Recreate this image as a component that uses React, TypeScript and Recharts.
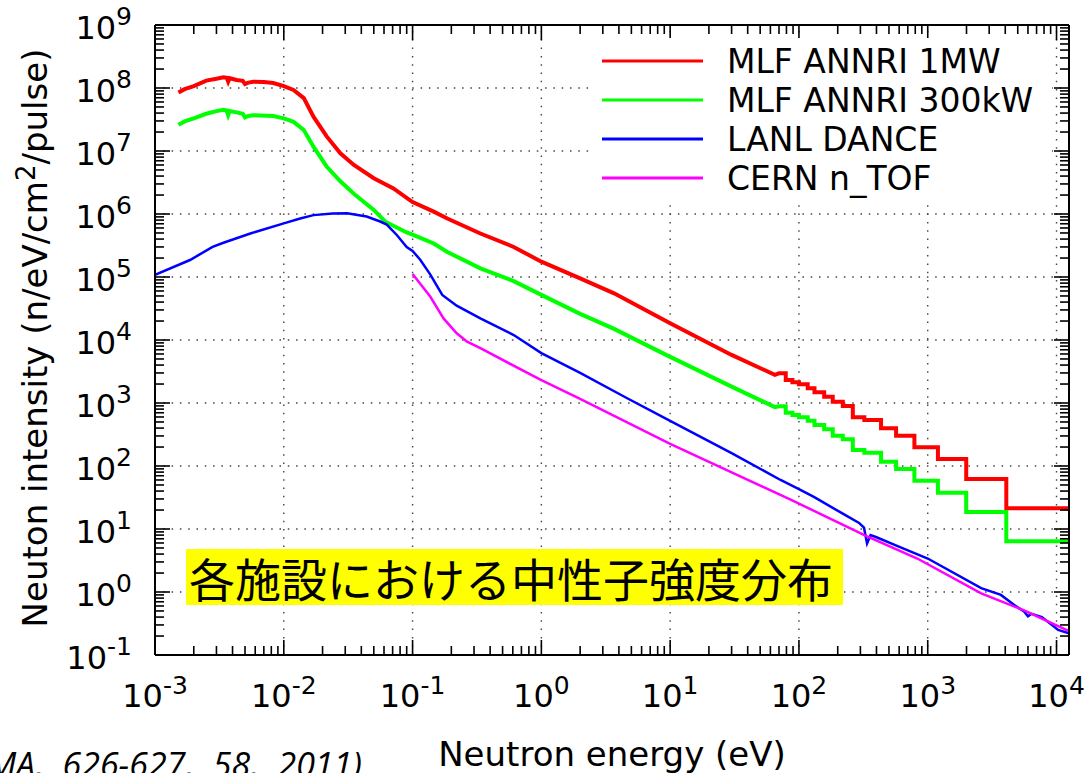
import React from "react";
import { LineChart, Line, XAxis, YAxis, ReferenceLine, Legend } from "recharts";

// ── Layout / fonts ─────────────────────────────────────────────────────────────
const W = 1092;
const H = 773;
const FONT = "'DejaVu Sans', sans-serif";
const TICK_MAJOR = 15;
const TICK_MINOR = 9;

// ── Axes ───────────────────────────────────────────────────────────────────────
const X_DOMAIN: [number, number] = [1e-3, 1.25e4];
const Y_DOMAIN: [number, number] = [1e-1, 1e9];
const X_MAJOR = [1e-3, 1e-2, 1e-1, 1, 10, 100, 1e3, 1e4];
const Y_MAJOR = [1e-1, 1, 10, 100, 1e3, 1e4, 1e5, 1e6, 1e7, 1e8, 1e9];
const MINOR = [2, 3, 4, 5, 6, 7, 8, 9];

// ── MLF ANNRI 1MW (eV, n/eV/cm2/pulse) ─────────────────────────────────────────
const redE = [1.52e-3, 1.7e-3, 2.0e-3, 2.5e-3, 3.0e-3, 3.4e-3, 3.6e-3, 3.7e-3, 3.8e-3, 4.3e-3, 4.8e-3, 5.0e-3, 5.3e-3, 5.8e-3, 7.0e-3, 8.3e-3, 1.0e-2, 1.19e-2, 1.43e-2, 1.7e-2, 2.16e-2, 2.75e-2, 3.5e-2, 5.0e-2, 7.1e-2, 0.1, 0.146, 0.186, 0.336, 0.61, 1.0, 2.0, 3.67, 10, 30, 65];
const redI = [8.5e7, 9.6e7, 1.07e8, 1.31e8, 1.4e8, 1.48e8, 1.45e8, 1.26e8, 1.43e8, 1.34e8, 1.3e8, 1.16e8, 1.22e8, 1.26e8, 1.24e8, 1.2e8, 1.07e8, 9.3e7, 6.9e7, 3.5e7, 1.69e7, 9.2e6, 6.0e6, 3.7e6, 2.55e6, 1.55e6, 1.09e6, 8.5e5, 4.9e5, 3.0e5, 1.75e5, 9.5e4, 5.5e4, 1.84e4, 5.8e3, 2.8e3];
// histogram bins at high energy
const binEdges = [70, 79, 89, 100, 117, 132, 157, 183, 219, 262, 322, 434, 568, 788, 1200, 1990, 4075, 12500];
const redBins = [2960, 2320, 2130, 1980, 1710, 1480, 1260, 1050, 895, 592, 537, 396, 303, 198, 129, 62, 21.3];

// ── MLF ANNRI 300kW ────────────────────────────────────────────────────────────
const greenE = [1.52e-3, 1.7e-3, 2.0e-3, 2.5e-3, 3.0e-3, 3.4e-3, 3.6e-3, 3.7e-3, 3.8e-3, 4.3e-3, 4.8e-3, 5.0e-3, 5.3e-3, 5.8e-3, 8.3e-3, 1.0e-2, 1.19e-2, 1.43e-2, 1.7e-2, 2.16e-2, 2.75e-2, 3.5e-2, 5.0e-2, 6.14e-2, 9.0e-2, 0.1, 0.146, 0.186, 0.336, 0.61, 1.0, 2.0, 3.67, 10, 30, 65];
const greenI = [2.6e7, 2.95e7, 3.3e7, 3.9e7, 4.3e7, 4.5e7, 4.4e7, 3.7e7, 4.3e7, 4.1e7, 3.9e7, 3.4e7, 3.6e7, 3.7e7, 3.6e7, 3.3e7, 2.9e7, 2.15e7, 1.17e7, 5.6e6, 3.3e6, 2.1e6, 1.16e6, 7.55e5, 5.1e5, 4.7e5, 3.4e5, 2.5e5, 1.37e5, 8.6e4, 5.2e4, 2.6e4, 1.5e4, 5.4e3, 1.82e3, 860];
const greenBins = [890, 700, 645, 592, 524, 448, 382, 303, 266, 180, 163, 117, 90, 58.5, 37.7, 18.6, 6.4];

// ── LANL DANCE ─────────────────────────────────────────────────────────────────
const blueE = [1e-3, 1.87e-3, 2.8e-3, 3.4e-3, 5.5e-3, 1e-2, 1.34e-2, 1.7e-2, 2.4e-2, 3.1e-2, 4.4e-2, 5.6e-2, 6.3e-2, 7.57e-2, 9e-2, 0.1, 0.115, 0.137, 0.17, 0.22, 0.336, 0.61, 1, 2, 4.6, 10, 30, 72, 100, 131.6, 219, 293, 320, 338, 360, 400, 590, 1000, 2600, 3700, 4700, 5600, 6000, 6400, 7700, 10300, 12500];
const blueI = [1.08e5, 1.86e5, 3.0e5, 3.5e5, 4.9e5, 7.1e5, 8.5e5, 9.6e5, 1.02e6, 1.03e6, 9.1e5, 7.6e5, 6.8e5, 4.6e5, 3.0e5, 2.6e5, 1.86e5, 1.1e5, 5.2e4, 3.5e4, 2.2e4, 1.2e4, 6.2e3, 3.0e3, 1.2e3, 520, 160, 60, 43, 32, 17.5, 12.5, 10.5, 5.9, 8.0, 7.4, 5.3, 3.4, 1.15, 0.9, 0.62, 0.49, 0.41, 0.45, 0.40, 0.25, 0.22];

// ── CERN n_TOF ─────────────────────────────────────────────────────────────────
const magE = [0.1, 0.137, 0.174, 0.22, 0.265, 0.336, 1.0, 2.0, 10, 87, 322, 830, 2600, 5600, 12500];
const magI = [1.12e5, 4.9e4, 2.2e4, 1.28e4, 9.4e3, 7.4e3, 2.3e3, 1.16e3, 224, 29, 8, 3.4, 0.95, 0.51, 0.24];

// ── Helpers ────────────────────────────────────────────────────────────────────
type Pt = { e: number; v: number };
const toPoints = (es: number[], vs: number[]): Pt[] => es.map((e, i) => ({ e, v: vs[i] }));
const toSteps = (edges: number[], vals: number[]): Pt[] =>
  vals.flatMap((v, i) => [{ e: edges[i], v }, { e: edges[i + 1], v }]);

const SERIES = [
  { name: "MLF ANNRI 1MW", color: "#ff0000", width: 4, data: [...toPoints(redE, redI), ...toSteps(binEdges, redBins)] },
  { name: "MLF ANNRI 300kW", color: "#00ff00", width: 4, data: [...toPoints(greenE, greenI), ...toSteps(binEdges, greenBins)] },
  { name: "LANL DANCE", color: "#0000ff", width: 2.5, data: toPoints(blueE, blueI) },
  { name: "CERN n_TOF", color: "#ff00ff", width: 2.5, data: toPoints(magE, magI) },
];

const expOf = (v: number) => Math.round(Math.log10(v));
const isMajor = (v: number) => Math.abs(Math.log10(v) - expOf(v)) < 1e-6;

const withMinor = (majors: number[], [lo, hi]: [number, number]) =>
  majors
    .flatMap((m) => [m, ...MINOR.map((k) => m * k)])
    .filter((v) => v >= lo * 0.999 && v <= hi * 1.001)
    .sort((a, b) => a - b);

const X_TICKS = withMinor(X_MAJOR, X_DOMAIN);
const Y_TICKS = withMinor(Y_MAJOR, Y_DOMAIN);

// ── Ticks (gnuplot style: inward, mirrored) ────────────────────────────────────
function makeTick(side: "bottom" | "top" | "left" | "right") {
  return function Tick(props: any) {
    const { x, y, payload } = props;
    const v = payload.value as number;
    const major = isMajor(v);
    const len = major ? TICK_MAJOR : TICK_MINOR;
    let x2 = x;
    let y2 = y;
    if (side === "bottom") y2 = y - len;
    if (side === "top") y2 = y + len;
    if (side === "left") x2 = x + len;
    if (side === "right") x2 = x - len;
    return (
      <g>
        <line x1={x} y1={y} x2={x2} y2={y2} stroke="#000" strokeWidth={1.6} />
        {major && side === "bottom" && (
          <text x={x} y={y + 52} textAnchor="middle" fontFamily={FONT} fontSize={32} fill="#000">
            10<tspan dy={-13} fontSize={25}>{expOf(v)}</tspan>
          </text>
        )}
        {major && side === "left" && (
          <text x={x - 23} y={y + 14} textAnchor="end" fontFamily={FONT} fontSize={32} fill="#000">
            10<tspan dy={-14} fontSize={25}>{expOf(v)}</tspan>
          </text>
        )}
      </g>
    );
  };
}

// ── Legend (opaque key box) ────────────────────────────────────────────────────
function KeyBox() {
  return (
    <svg width={460} height={162} style={{ display: "block" }}>
      {SERIES.map((s, i) => (
        <g key={s.name}>
          <line x1={10} x2={111} y1={23 + 39 * i} y2={23 + 39 * i} stroke={s.color} strokeWidth={3} />
          <text x={135} y={35 + 39 * i} fontFamily={FONT} fontSize={33} fill="#000">{s.name}</text>
        </g>
      ))}
    </svg>
  );
}

const frame = { stroke: "#000", strokeWidth: 2 };
const gridStyle = { stroke: "#444", strokeWidth: 1.4, strokeDasharray: "1.5 6.8" };

export default function App() {
  return (
    <div style={{ position: "absolute", left: 0, top: 0, width: W, height: H, overflow: "hidden", background: "#fff" }}>
      <LineChart width={W} height={H} margin={{ top: 20, right: 18, bottom: 58, left: 75 }}>
        <XAxis xAxisId="b" dataKey="e" type="number" scale="log" domain={X_DOMAIN} allowDataOverflow
          ticks={X_TICKS} interval={0} tick={makeTick("bottom")} tickLine={false} tickSize={0} tickMargin={0}
          axisLine={frame} height={60} orientation="bottom" />
        <XAxis xAxisId="t" dataKey="e" type="number" scale="log" domain={X_DOMAIN} allowDataOverflow
          ticks={X_TICKS} interval={0} tick={makeTick("top")} tickLine={false} tickSize={0} tickMargin={0}
          axisLine={frame} height={5} orientation="top" />
        <YAxis yAxisId="l" type="number" scale="log" domain={Y_DOMAIN} allowDataOverflow
          ticks={Y_TICKS} interval={0} tick={makeTick("left")} tickLine={false} tickSize={0} tickMargin={0}
          axisLine={frame} width={80} orientation="left" />
        <YAxis yAxisId="r" type="number" scale="log" domain={Y_DOMAIN} allowDataOverflow
          ticks={Y_TICKS} interval={0} tick={makeTick("right")} tickLine={false} tickSize={0} tickMargin={0}
          axisLine={frame} width={5} orientation="right" />

        {X_MAJOR.map((v) => (
          <ReferenceLine key={"gx" + v} x={v} xAxisId="b" yAxisId="l" {...gridStyle} />
        ))}
        {Y_MAJOR.map((v) => (
          <ReferenceLine key={"gy" + v} y={v} xAxisId="b" yAxisId="l" {...gridStyle} />
        ))}

        {SERIES.map((s) => (
          <Line key={s.name} xAxisId="b" yAxisId="l" data={s.data} dataKey="v" name={s.name}
            type="linear" stroke={s.color} strokeWidth={s.width} dot={false} activeDot={false}
            isAnimationActive={false} />
        ))}

        <Legend layout="vertical" align="center" verticalAlign="middle"
          wrapperStyle={{ left: 592, top: 38, width: 460, height: 162, background: "#fff" }}
          content={() => <KeyBox />} />
      </LineChart>

      <svg width={W} height={H} style={{ position: "absolute", left: 0, top: 0, pointerEvents: "none" }}>
        <text transform="rotate(-90)" x={-338} y={47} textAnchor="middle" fontFamily={FONT} fontSize={34} fill="#000">
          Neuton intensity (n/eV/cm<tspan dy={-12} fontSize={26}>2</tspan><tspan dy={12}>/pulse)</tspan>
        </text>
        <text x={612} y={766} textAnchor="middle" fontFamily={FONT} fontSize={34} fill="#000">
          Neutron energy (eV)
        </text>
        <rect x={186} y={549} width={657} height={56} fill="#ffff00" />
        <text x={189} y={577} dominantBaseline="central" fontFamily="'Noto Sans CJK JP', sans-serif" fontSize={46} fill="#000">
          各施設における中性子強度分布
        </text>
        <text x={362} y={777} textAnchor="end" fontFamily="'Open Sans', sans-serif" fontStyle="italic" fontSize={34}
          style={{ wordSpacing: 10 }} fill="#000">
          (NIMA, 626-627, 58, 2011)
        </text>
      </svg>
    </div>
  );
}
